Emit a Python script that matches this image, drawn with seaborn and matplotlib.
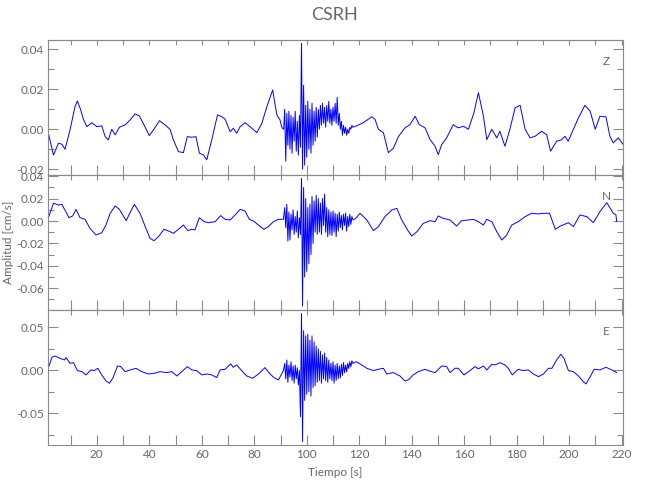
import numpy as np
import pandas as pd
import matplotlib
matplotlib.use("Agg")
import matplotlib.pyplot as plt
import seaborn as sns
from matplotlib.ticker import MultipleLocator

# amplitudes are written in 1e-3 cm/s and scaled when plotted
# quiet part before the arrival: (time [s], amplitude)
z_pre_t = [1.2, 3.5, 5.4, 6.7, 7.9, 9.8, 11.7, 12.6, 13.9, 14.9, 16.2, 18.1, 20, 21.9, 23.2, 24.4,
           25.7, 27, 28.6, 30.8, 32.7, 34.6, 36.2, 38, 40, 41.6, 43.9, 46, 47.9, 49.2, 51.1, 53,
           54.5, 56.2, 57.8, 59.1, 60.6, 61.9, 63.8, 66, 67.6, 68.9, 70.8, 72, 73.3, 74.6, 76.5,
           78.4, 81, 82.9, 84.8, 87, 88.6, 89.8, 90.5, 91.2]
z_pre_v = [0, -12.9, -7, -7.5, -10, -0.3, 11.3, 14.2, 9.6, 5, 1.3, 3.3, 1.3, 1.7, -3.7, -5.3,
           0, -2.8, 1, 2.2, 4.7, 7.7, 6.7, 2.2, -3.2, -0.3, 4.3, 2.2, 0, -5.3, -11.2, -11.7,
           -3.7, -4, -3.7, -12, -12.8, -15.3, -5.3, 7.2, 6.3, 5, -1.2, 0.5, -2, 1.3, 3.3,
           1.3, -1.7, 3, 11.3, 19.7, 7.2, 4.7, 0.9, 0]
n_pre_t = [1.3, 2.3, 3.5, 5.4, 6.7, 9.4, 10.8, 12.1, 13.6, 15.5, 17.4, 19.7, 21.9, 23.5, 25.1, 27,
           28.6, 31.2, 33.3, 34.3, 36.5, 38.7, 40.3, 41.8, 43.5, 45.6, 47.9, 49.2, 51.1, 53,
           54.7, 56.2, 57.4, 59.1, 60.9, 62.5, 65.1, 67.2, 68.9, 70.8, 72.7, 74.6, 76.5, 78.1,
           79.7, 81.6, 83.7, 85.4, 87.3, 89.2, 91.1]
n_pre_v = [0.9, 8, 15.8, 14.3, 14.9, 3, 4.5, 10.4, 3, 1.5, -6.5, -12.5, -10.4, -3.6, 6.8, 13.4,
           10.4, 0.3, 10.4, 14.9, 6.8, -6.5, -15.5, -17.6, -14, -7.4, -9.5, -11, -7.4, -3.6,
           -8.6, -7.4, -8, 3, -0.6, -1.5, -0.6, 4.8, 1.5, 0.9, 5.4, 10.4, 9, 1.5,
           0, -3.6, -7.4, -5, -0.6, 1.5, 1.5]
e_pre_t = [1.3, 2.9, 4.1, 6, 7.7, 8.3, 9.8, 11.1, 12.6, 14.3, 15.9, 17.7, 19, 20.4, 21.9, 23.5,
           24.8, 26.1, 27.9, 29.1, 30.8, 32.7, 35, 37.1, 39.7, 41.8, 44.1, 46.6, 48.6, 50.5,
           52.4, 54.5, 56.2, 58.1, 60, 61.9, 63.8, 65.7, 67, 68.9, 71, 72, 73.3, 75.2, 77.1,
           79.4, 81.6, 84.1, 86, 87.5, 89.2, 91.1]
e_pre_v = [0.4, 15, 16.6, 13.9, 12, 14.7, 8.1, 8.9, -0.4, -1.6, -5.4, 0.4, -0.4, 2.3, -5.4, -12.4,
           -15.1, -9.3, 5, 4.3, -1.6, 0.4, 2.3, -1.6, -4.3, -3.5, -1.6, -2.7, -1.6, -6.6,
           -1.6, 4.3, 0.4, -0.4, -5.4, -4.3, -5.4, -8.5, 0.4, 1.2, 7.4, 3.5, 6.2, -0.4, -6.6,
           -9.3, -4.3, 3.1, -4.3, -8.5, -11.2, -0.4]

# strong motion, sampled every 0.4 s from 91.6 s
burst_start = 91.6
burst_dt = 0.4
z_burst = [10, -16, 8, -8, 9, -10, 7, -12, 6, -6, 9, -11, 4, -13, 7, -9, 43, -20, 22, -18,
           12, -14, 14, -10, 10, -12, 13, -8, 9, -6, 11, -4, 10, 0, 12, 2, 13, 3, 11, 1,
           12, 4, 14, 3, 10, 2, 11, 4, 13, 3, 16, 2, 8, 0, 4, -3, 2, -2, 1, -3,
           0, -2, 1, 0, 2, 1]
n_burst = [12, -6, 15, -18, 8, -17, 6, -8, 10, -12, 4, -10, 9, -15, 3, -12, 38, -76, 30, -50,
           20, -45, 12, -38, 15, -30, 22, -20, 18, -10, 23, -12, 20, -10, 16, -12, 20, -4, 24, -10,
           12, -14, 10, -12, 8, -13, 9, -10, 7, -14, 6, -9, 8, -6, 5, -8, 6, -4, 7, -9,
           4, -5, 6, -3, 4, 1]
e_burst = [8, -10, 12, -14, 6, -8, 10, -12, 5, -15, 6, -10, 3, -17, 0, -54, 66, -83, 46, -35,
           40, -28, 42, -25, 35, -30, 40, -20, 33, -18, 28, -14, 25, -12, 22, -15, 18, -10, 20, -12,
           15, -14, 12, -10, 8, -12, 10, -15, 6, -12, 8, -10, 5, -9, 7, -6, 9, -3, 6, -2,
           8, 2, 10, 4, 11, 8]

# quiet part after the arrival
z_post_t = [118.9, 121.6, 124.8, 126, 127.3, 129.2, 131.1, 133, 134.9, 137.4, 139.3, 141.3, 142.9,
            145.1, 147, 148.9, 150.1, 151.4, 153.3, 155.8, 157.7, 159.7, 161.6, 163.7, 165.4,
            167.3, 168.6, 170.5, 172.4, 173.6, 175.5, 177.4, 179.4, 181.3, 183.2, 185.1, 187,
            189.5, 191.4, 192.9, 195.2, 197.1, 198.4, 199.6, 201.6, 203.5, 206, 208, 209.9,
            211.7, 214, 215.5, 216.8, 218.7, 220.6]
z_post_v = [1.7, 3.3, 6.3, 5, 0, -1.7, -11.7, -9.5, -3.7, 0.7, 2.3, 6.5, 2.3,
            0.7, -5.2, -8.5, -12.7, -7.7, -4.3, 2.3, 0.7, 1.5, 0, 8.3, 18.3,
            6.7, -5.2, 0, -4.3, -1, -8.5, 0, 10.8, 12, 0, -4.3, -3.5,
            -1, -2.7, -11, -6, -5.2, -3.5, -6, 0, 5.7, 12, 9, 0,
            6.5, 6.2, -3.5, -6.8, -4.3, -7.7]
n_post_t = [118.5, 120.3, 122.9, 125.4, 127.3, 129.8, 132.4, 134.3, 136.2, 138.4, 140, 142, 144.4,
            147, 148.9, 150.1, 152, 154.6, 157.1, 159, 161.6, 163.5, 165.4, 167.3, 168.6, 170.5,
            172.4, 174.3, 176.2, 178.1, 180.6, 183.2, 185.7, 188.3, 190.2, 192.5, 194.7, 196.6,
            199.7, 201.6, 204.1, 206.7, 209.2, 211.7, 214.3, 216.8, 217.8, 218.1]
n_post_v = [2, 6.9, 0.9, -8.6, -5, 3.9, 9.8, 11.3, 0.9, -8, -13.4, -9.5, -2.1,
            0.3, -0.6, 4.5, 2.4, 0.9, -4.5, 0.3, 0.9, 1.5, -0.6, -3.6, 1.5, -0.6,
            -9.5, -17, -12.5, -3.6, -0.6, 3.9, 6.9, 6.3, 6.9, 6.9, -7.4, -4.5,
            -1.5, -5, 5.4, 3.9, -1.5, 8.3, 16.4, 6.9, 5.4, -0.6]
e_post_t = [118.2, 119, 120.9, 122.9, 125.4, 127.3, 129.2, 130.5, 133, 135.5, 137.4, 138.7, 140.6,
            142.5, 145.1, 146.3, 148.9, 151.4, 153.3, 154.6, 156.5, 157.7, 159.9, 162.2, 164.1,
            165.4, 167.3, 168.6, 170.5, 171.8, 173.6, 175.5, 176.8, 178.3, 180.6, 182.5, 184.4,
            186.3, 188.3, 190.2, 192.1, 193.4, 195.2, 196.8, 198, 199.7, 201.6, 203.5, 205.4,
            206.4, 208, 209.5, 211.7, 214, 216.2, 218.1]
e_post_v = [9, 9.9, 6.2, 2.3, -0.4, 1.2, 2.3, -4.3, -2.7, -6.6, -12.4, -11.2, -5.4,
            -1.6, 1.2, -0.4, -2.7, 5, 4.3, -2.7, 2.3, 2.3, -5.4, -0.4, 4.3,
            1.6, 5, 0.4, 7, 6.2, 8.9, 6.2, 2.3, -5.4, 1.2, -0.4, 0.4,
            -4.3, -7.4, -4.3, 2.3, 2.3, 12, 18.6, 13.9, -0.4, -1.6, -6.6, -13.2,
            -15.9, -7.4, 1.2, 0.4, 3.5, 0.4, -2.7]

components = ["Z", "N", "E"]
y_limits = {"Z": (-0.0229, 0.0447), "N": (-0.0795, 0.0411), "E": (-0.0869, 0.0701)}
y_major = {"Z": 0.02, "N": 0.02, "E": 0.05}
x_limits = (1.3, 220.6)

TEXT = "#666666"
AXIS = "#8a8a8a"


def build_trace(pre_t, pre_v, burst, post_t, post_v):
    burst_t = burst_start + burst_dt * np.arange(len(burst))
    t = np.concatenate([pre_t, burst_t, post_t])
    v = np.concatenate([pre_v, burst, post_v]) * 1e-3
    return pd.DataFrame({"t": t, "v": v})


traces = {
    "Z": build_trace(z_pre_t, z_pre_v, z_burst, z_post_t, z_post_v),
    "N": build_trace(n_pre_t, n_pre_v, n_burst, n_post_t, n_post_v),
    "E": build_trace(e_pre_t, e_pre_v, e_burst, e_post_t, e_post_v),
}

sns.set_style("white")
plt.rcParams["font.family"] = ["Lato", "DejaVu Sans"]

fig = plt.figure(figsize=(6.5, 5), dpi=100)
bottoms = [0.65, 0.38, 0.11]

for comp, bottom in zip(components, bottoms):
    ax = fig.add_axes([0.0734, bottom, 0.8855, 0.27])
    sns.lineplot(data=traces[comp], x="t", y="v", ax=ax, color="#0000ff",
                 linewidth=0.7, estimator=None, sort=False)
    ax.set_xlim(*x_limits)
    ax.set_ylim(*y_limits[comp])
    ax.set_xlabel("")
    ax.set_ylabel("")

    ax.xaxis.set_major_locator(MultipleLocator(20))
    ax.xaxis.set_minor_locator(MultipleLocator(10))
    ax.yaxis.set_major_locator(MultipleLocator(y_major[comp]))
    ax.yaxis.set_minor_locator(MultipleLocator(y_major[comp] / 2))
    ax.yaxis.set_major_formatter(matplotlib.ticker.FormatStrFormatter("%.2f"))

    ax.tick_params(axis="x", which="both", direction="in", length=7, width=0.8,
                   color=AXIS, labelcolor=TEXT, labelsize=8.5, top=False, bottom=True,
                   labelbottom=(comp == "E"), pad=3)
    ax.tick_params(axis="y", which="major", direction="in", length=7, width=0.8,
                   color=AXIS, labelcolor=TEXT, labelsize=8.5, left=True, right=True, pad=3)
    ax.tick_params(axis="y", which="minor", direction="in", length=4, width=0.8,
                   color=AXIS, left=True, right=True)

    top = ax.secondary_xaxis("top")
    top.xaxis.set_major_locator(MultipleLocator(10))
    top.tick_params(direction="in", length=3.6, width=0.8, color=AXIS, labeltop=False)
    top.spines["top"].set_color(AXIS)

    for side in ["left", "right", "top", "bottom"]:
        ax.spines[side].set_color(AXIS)
        ax.spines[side].set_linewidth(0.8)

    ax.text(0.97, 0.84, comp, transform=ax.transAxes, color=TEXT,
            fontsize=8.5, ha="center", va="center")

fig.text(0.515, 0.97, "CSRH", ha="center", va="center", color=TEXT, fontsize=13)
fig.text(0.013, 0.516, "Amplitud [cm/s]", rotation=90, ha="center", va="center",
         color=TEXT, fontsize=8.5)
fig.text(0.515, 0.054, "Tiempo [s]", ha="center", va="center", color=TEXT, fontsize=8.5)

fig.savefig("out.png", dpi=100)
